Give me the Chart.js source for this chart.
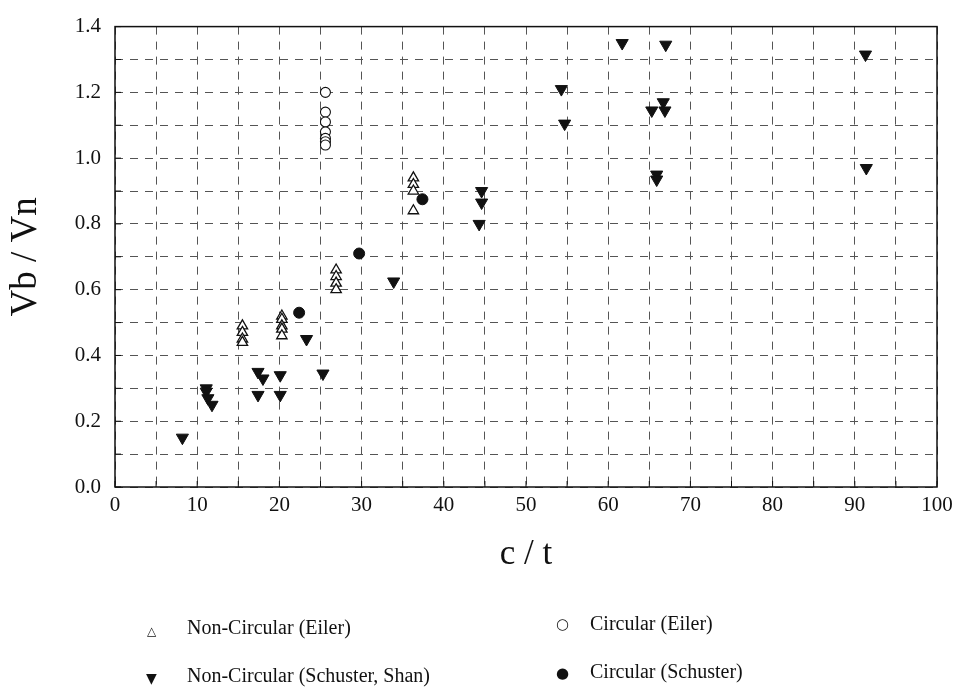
<!DOCTYPE html>
<html>
<head>
<meta charset="utf-8">
<script src="https://cdn.jsdelivr.net/npm/chart.js@4"></script>
<style>
  body { margin: 0; background: #fff; font-family: "Liberation Serif", serif; }
  .wrap { position: relative; width: 960px; height: 580px; }
  .legend { position: absolute; left: 0; top: 0; width: 960px; height: 690px; pointer-events: none; }
  .item { position: absolute; font-size: 20px; color: #111; white-space: nowrap; }
  .sym { position: absolute; color: #111; font-family: "DejaVu Sans", sans-serif; line-height: 1; }
</style>
</head>
<body>
<div class="wrap"><canvas id="chart" width="960" height="580"></canvas></div>
<div class="legend">
  <span class="sym" style="left:147px;top:625px;font-size:12px">&#9651;</span>
  <div class="item" style="left:187px;top:616px">Non-Circular (Eiler)</div>
  <span class="sym" style="left:556px;top:617px;font-size:15px">&#9675;</span>
  <div class="item" style="left:590px;top:612px">Circular (Eiler)</div>
  <span class="sym" style="left:146px;top:671px;font-size:14px">&#9660;</span>
  <div class="item" style="left:187px;top:664px">Non-Circular (Schuster, Shan)</div>
  <span class="sym" style="left:556px;top:666px;font-size:15px">&#9679;</span>
  <div class="item" style="left:590px;top:660px">Circular (Schuster)</div>
</div>
<script>
// values
const ncEilerX = [15.5, 15.5, 15.5, 15.5, 20.3, 20.3, 20.3, 20.3, 20.3, 26.9, 26.9, 26.9, 26.9, 36.3, 36.3, 36.3, 36.3];
const ncEilerY = [0.49, 0.47, 0.45, 0.44, 0.52, 0.51, 0.49, 0.48, 0.46, 0.66, 0.64, 0.62, 0.60, 0.94, 0.92, 0.90, 0.84];

const cEilerX = [25.6, 25.6, 25.6, 25.6, 25.6, 25.6, 25.6];
const cEilerY = [1.20, 1.14, 1.11, 1.08, 1.06, 1.05, 1.04];

const ncSchX = [8.2, 11.1, 11.1, 11.3, 11.8, 17.4, 18.0, 20.1, 17.4, 20.1, 23.3, 25.3, 33.9, 44.6, 44.6, 44.3, 54.3, 54.7, 61.7, 65.3, 66.9, 66.7, 67.0, 65.9, 65.9, 91.3, 91.4];
const ncSchY = [0.15, 0.30, 0.29, 0.27, 0.25, 0.35, 0.33, 0.34, 0.28, 0.28, 0.45, 0.345, 0.625, 0.90, 0.865, 0.80, 1.21, 1.105, 1.35, 1.145, 1.145, 1.17, 1.345, 0.95, 0.935, 1.315, 0.97];

const cSchX = [22.4, 29.7, 37.4];
const cSchY = [0.53, 0.71, 0.875];

const xTicks = [0, 10, 20, 30, 40, 50, 60, 70, 80, 90, 100];
const yTicks = [0.0, 0.2, 0.4, 0.6, 0.8, 1.0, 1.2, 1.4];

function pts(xs, ys) {
  return xs.map((x, i) => ({ x: x, y: ys[i] }));
}

// outer box plus small inward tick marks, like the printed figure
const frame = {
  id: 'frame',
  afterDraw(chart) {
    const a = chart.chartArea;
    const c = chart.ctx;
    c.save();
    c.strokeStyle = '#111';
    c.lineWidth = 1.5;
    c.strokeRect(a.left, a.top, a.right - a.left, a.bottom - a.top);
    c.lineWidth = 1;
    chart.scales.y.ticks.forEach(t => {
      const py = chart.scales.y.getPixelForValue(t.value);
      c.beginPath(); c.moveTo(a.left, py); c.lineTo(a.left + 6, py); c.stroke();
    });
    chart.scales.x.ticks.forEach(t => {
      const px = chart.scales.x.getPixelForValue(t.value);
      c.beginPath(); c.moveTo(px, a.bottom); c.lineTo(px, a.bottom - 6); c.stroke();
    });
    c.restore();
  }
};

const serif = '"Liberation Serif", "DejaVu Serif", serif';

new Chart(document.getElementById('chart'), {
  type: 'scatter',
  data: {
    datasets: [
      { label: 'Non-Circular (Eiler)', data: pts(ncEilerX, ncEilerY), pointStyle: 'triangle',
        pointRadius: 6, backgroundColor: '#fff', borderColor: '#111', borderWidth: 1.3 },
      { label: 'Circular (Eiler)', data: pts(cEilerX, cEilerY), pointStyle: 'circle',
        pointRadius: 5, backgroundColor: '#fff', borderColor: '#111', borderWidth: 1.1 },
      { label: 'Non-Circular (Schuster, Shan)', data: pts(ncSchX, ncSchY), pointStyle: 'triangle',
        rotation: 180, pointRadius: 7, backgroundColor: '#111', borderColor: '#111', borderWidth: 1 },
      { label: 'Circular (Schuster)', data: pts(cSchX, cSchY), pointStyle: 'circle',
        pointRadius: 5.5, backgroundColor: '#111', borderColor: '#111', borderWidth: 1 }
    ]
  },
  options: {
    responsive: false,
    animation: false,
    layout: { padding: { top: 25, right: 23, left: 0, bottom: 0 } },
    plugins: { legend: { display: false }, tooltip: { enabled: false } },
    scales: {
      x: {
        type: 'linear', min: 0, max: 100,
        afterFit: s => { s.height = 93; },
        grid: { color: '#555', lineWidth: 1, drawTicks: false },
        border: { display: false, dash: [8, 7] },
        ticks: {
          stepSize: 5, padding: 6, color: '#111', maxRotation: 0, autoSkip: false,
          font: { family: serif, size: 21 },
          callback: v => xTicks.includes(v) ? String(v) : ''
        },
        title: { display: true, text: 'c / t', color: '#111', font: { family: serif, size: 35 }, padding: { top: 4 } }
      },
      y: {
        type: 'linear', min: 0, max: 1.4,
        afterFit: s => { s.width = 115; },
        grid: { color: '#555', lineWidth: 1, drawTicks: false },
        border: { display: false, dash: [8, 7] },
        ticks: {
          stepSize: 0.1, padding: 14, color: '#111', autoSkip: false,
          font: { family: serif, size: 21 },
          callback: v => {
            const r = Math.round(v * 10) / 10;
            return yTicks.some(t => Math.abs(t - r) < 1e-6) ? r.toFixed(1) : '';
          }
        },
        title: { display: true, text: 'Vb / Vn', color: '#111', font: { family: serif, size: 37 }, padding: { bottom: 8 } }
      }
    }
  },
  plugins: [frame]
});
</script>
</body>
</html>
